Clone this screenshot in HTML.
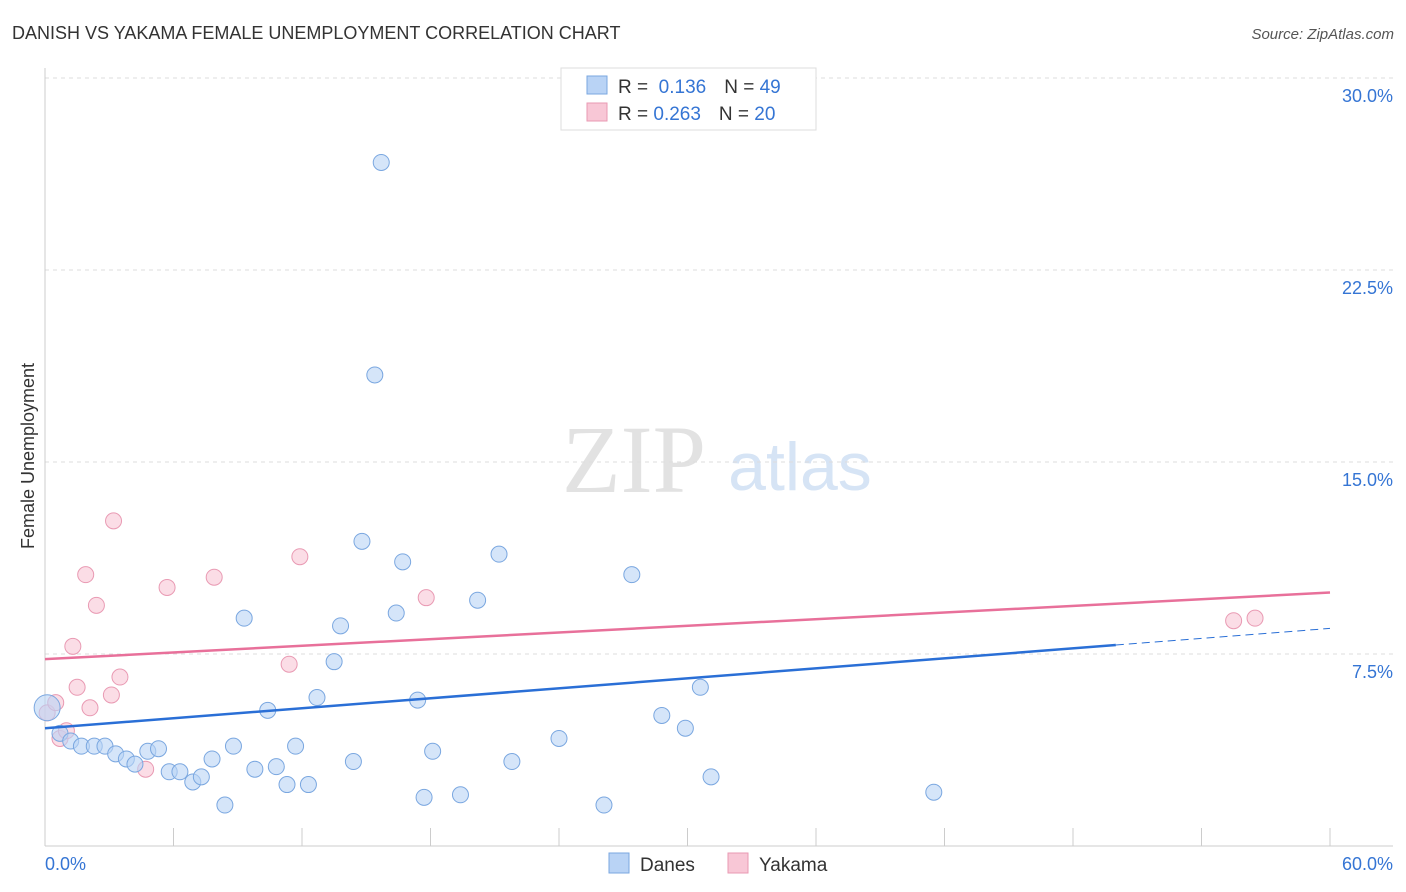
<!DOCTYPE html>
<html><head><meta charset="utf-8"><style>
body{margin:0;background:#fff;font-family:"Liberation Sans",sans-serif;}
svg{display:block}
</style></head><body>
<svg id="c" width="1406" height="892" xmlns="http://www.w3.org/2000/svg">
<text x="12" y="39" font-size="18" fill="#333">DANISH VS YAKAMA FEMALE UNEMPLOYMENT CORRELATION CHART</text>
<text x="1394" y="39" font-size="15" fill="#555" font-style="italic" text-anchor="end">Source: ZipAtlas.com</text>
<text x="634" y="492" font-size="96" fill="#e2e2e2" font-family="Liberation Serif,serif" text-anchor="middle">ZIP</text>
<text x="800" y="490" font-size="68" fill="#d6e4f5" text-anchor="middle">atlas</text>
<text transform="translate(34,456) rotate(-90)" font-size="18" fill="#333" text-anchor="middle">Female Unemployment</text>
<g id="grid"></g><g id="marks"></g>
<g>
<rect x="561" y="68" width="255" height="62" fill="#fff" stroke="#ddd"/>
<rect x="587" y="76" width="20" height="18" fill="#b9d3f5" stroke="#7aa7e0"/>
<rect x="587" y="103" width="20" height="18" fill="#f8c7d6" stroke="#e99ab3"/>
<text x="618" y="93" font-size="19" fill="#333">R = <tspan fill="#3575d4">&#160;0.136</tspan><tspan dx="18">N = </tspan><tspan fill="#3575d4">49</tspan></text>
<text x="618" y="120" font-size="19" fill="#333">R = <tspan fill="#3575d4">0.263</tspan><tspan dx="18">N = </tspan><tspan fill="#3575d4">20</tspan></text>
</g>
<g>
<rect x="609" y="853" width="20" height="20" fill="#b9d3f5" stroke="#7aa7e0"/>
<text x="640" y="871" font-size="19" fill="#333">Danes</text>
<rect x="728" y="853" width="20" height="20" fill="#f8c7d6" stroke="#e99ab3"/>
<text x="759" y="871" font-size="19" fill="#333">Yakama</text>
</g>
</svg>
<script>
const yTicks=[7.5,15,22.5,30];
const yTickLabels=["7.5%","15.0%","22.5%","30.0%"];
const xTickLabels=["0.0%","60.0%"];
const danesX=[0.1,0.7,1.2,1.7,2.3,2.8,3.3,3.8,4.2,4.8,5.3,5.8,6.3,6.9,7.3,7.8,8.4,8.8,9.3,9.8,10.4,10.8,11.3,11.7,12.3,12.7,13.5,13.8,14.4,14.8,15.4,15.7,16.4,16.7,17.4,17.7,18.1,19.4,20.2,21.2,21.8,24.0,26.1,27.4,28.8,29.9,30.6,31.1,41.5];
const danesY=[5.4,4.4,4.1,3.9,3.9,3.9,3.6,3.4,3.2,3.7,3.8,2.9,2.9,2.5,2.7,3.4,1.6,3.9,8.9,3.0,5.3,3.1,2.4,3.9,2.4,5.8,7.2,8.6,3.3,11.9,18.4,26.7,9.1,11.1,5.7,1.9,3.7,2.0,9.6,11.4,3.3,4.2,1.6,10.6,5.1,4.6,6.2,2.7,2.1];
const yakX=[0.1,0.5,0.7,1.0,1.3,1.5,1.9,2.1,2.4,3.1,3.2,3.5,4.7,5.7,7.9,11.4,11.9,17.8,55.5,56.5];
const yakY=[5.2,5.6,4.2,4.5,7.8,6.2,10.6,5.4,9.4,5.9,12.7,6.6,3.0,10.1,10.5,7.1,11.3,9.7,8.8,8.9];
const danesTrend=[0,4.6,50,7.85,60,8.5];
const yakTrend=[0,7.3,60,9.9];
const X=v=>45+v*1285/60, Y=v=>846-v*25.6;
const NS="http://www.w3.org/2000/svg";
function mk(t,a,p){const e=document.createElementNS(NS,t);for(const k in a)e.setAttribute(k,a[k]);p.appendChild(e);return e;}
const g=document.getElementById('grid'),m=document.getElementById('marks');
yTicks.forEach((t,i)=>{
 const l=mk('line',{x1:45,x2:1393,y1:Y(t),y2:Y(t),stroke:'#ddd','stroke-dasharray':'4,4'},g);
 
 
 const tx=mk('text',{x:1393,y:Y(t)+24,'font-size':18,fill:'#3575d4','text-anchor':'end'},g);tx.textContent=yTickLabels[i];
 
 
});
mk('line',{x1:45,x2:45,y1:68,y2:846,stroke:'#ccc'},g);
mk('line',{x1:45,x2:1393,y1:846,y2:846,stroke:'#ccc'},g);
for(let i=0;i<=10;i++){const x=X(i*6);const t=mk('line',{x1:x,x2:x,y1:828,y2:846,stroke:'#ccc'},g);
 
 }
[[0,'start',45],[60,'end',1393]].forEach((a,i)=>{const t=mk('text',{x:a[2],y:870,'font-size':18,fill:'#3575d4','text-anchor':a[1]},g);t.textContent=xTickLabels[i];
 
 });
function dots(xs,ys,f,s,name){xs.forEach((x,i)=>{const c=mk('circle',{cx:X(x),cy:Y(ys[i]),r:i==0&&name=='danes-point'?13:8,fill:f,'fill-opacity':0.6,stroke:s,'stroke-width':1},m);
 
 });}
dots(yakX,yakY,'#f8c7d6','#e99ab3','yakama-point');
dots(danesX,danesY,'#b9d3f5','#7aa7e0','danes-point');
const bl=mk('line',{x1:X(danesTrend[0]),y1:Y(danesTrend[1]),x2:X(danesTrend[2]),y2:Y(danesTrend[3]),stroke:'#2a6fd6','stroke-width':2.5},m);


const bd=mk('line',{x1:X(danesTrend[2]),y1:Y(danesTrend[3]),x2:X(danesTrend[4]),y2:Y(danesTrend[5]),stroke:'#2a6fd6','stroke-width':1,'stroke-dasharray':'8,5'},m);


const pl=mk('line',{x1:X(yakTrend[0]),y1:Y(yakTrend[1]),x2:X(yakTrend[2]),y2:Y(yakTrend[3]),stroke:'#e8709a','stroke-width':2.5},m);


</script>
</body></html>
